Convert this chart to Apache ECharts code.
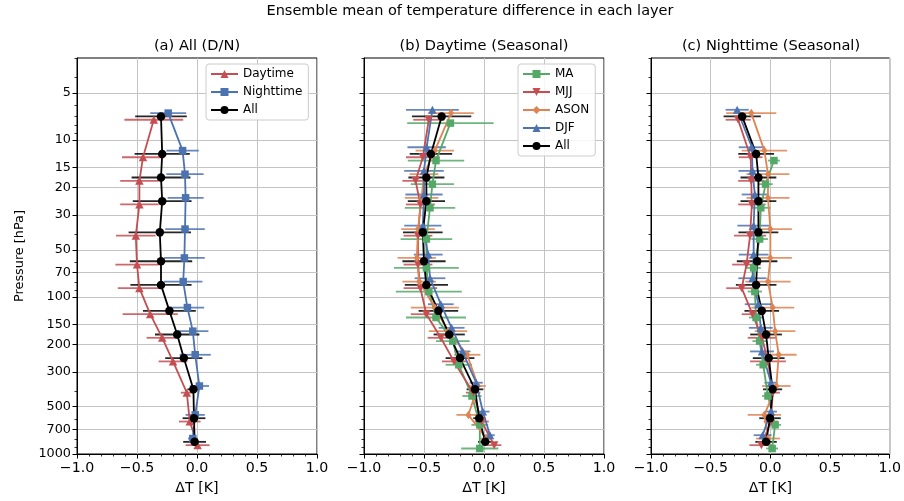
<!DOCTYPE html>
<html><head><meta charset="utf-8">
<script src="https://cdn.jsdelivr.net/npm/echarts@6/dist/echarts.min.js"></script>
<style>html,body{margin:0;padding:0;background:#fff}#c{width:904px;height:501px}</style>
</head><body><div id="c"></div>
<script>
// ---- data ----
const pressureLevels = [7.07, 12.25, 17.32, 24.49, 38.73, 59.16, 83.67, 122.5, 173.2, 244.9, 387.3, 591.6, 836.7];
const majorTicks = [5, 10, 15, 20, 30, 50, 70, 100, 150, 200, 300, 500, 700, 1000];
const minorTicks = [3, 4, 6, 7, 8, 9, 40, 60, 80, 90, 400, 600, 800, 900];
const panelTitles = ['(a) All (D/N)', '(b) Daytime (Seasonal)', '(c) Nighttime (Seasonal)'];

// panel (a)
const dayA      = [-0.36, -0.45, -0.48, -0.48, -0.51, -0.50, -0.48, -0.39, -0.29, -0.20, -0.085, -0.06, 0.005];
const dayAErr   = [0.245, 0.175, 0.16, 0.16, 0.165, 0.18, 0.18, 0.23, 0.13, 0.12, 0.05, 0.09, 0.10];
const nightA    = [-0.24, -0.12, -0.10, -0.095, -0.10, -0.105, -0.115, -0.08, -0.035, -0.015, 0.02, -0.015, -0.035];
const nightAErr = [0.15, 0.135, 0.155, 0.15, 0.165, 0.17, 0.16, 0.14, 0.13, 0.13, 0.08, 0.08, 0.04];
const allA      = [-0.30, -0.29, -0.30, -0.29, -0.31, -0.30, -0.30, -0.23, -0.165, -0.11, -0.03, -0.025, -0.02];
const allAErr   = [0.215, 0.23, 0.245, 0.245, 0.26, 0.26, 0.255, 0.22, 0.185, 0.155, 0.05, 0.095, 0.095];

// panel (b) daytime seasonal
const maB      = [-0.28, -0.40, -0.43, -0.45, -0.48, -0.48, -0.46, -0.40, -0.26, -0.21, -0.10, -0.035, -0.035];
const maBErr   = [0.36, 0.235, 0.18, 0.21, 0.215, 0.27, 0.275, 0.25, 0.14, 0.11, 0.08, 0.07, 0.155];
const mjjB     = [-0.46, -0.51, -0.57, -0.53, -0.55, -0.55, -0.53, -0.48, -0.36, -0.25, -0.09, -0.02, 0.085];
const mjjBErr  = [0.13, 0.14, 0.11, 0.12, 0.12, 0.12, 0.14, 0.13, 0.11, 0.10, 0.06, 0.06, 0.06];
const asonB    = [-0.275, -0.41, -0.50, -0.52, -0.55, -0.56, -0.54, -0.41, -0.30, -0.14, -0.05, -0.13, 0.02];
const asonBErr = [0.19, 0.16, 0.12, 0.14, 0.14, 0.16, 0.14, 0.20, 0.16, 0.11, 0.065, 0.10, 0.05];
const djfB     = [-0.43, -0.478, -0.50, -0.50, -0.51, -0.465, -0.45, -0.36, -0.27, -0.18, -0.065, -0.01, 0.05];
const djfBErr  = [0.22, 0.16, 0.165, 0.155, 0.155, 0.12, 0.128, 0.107, 0.108, 0.067, 0.055, 0.056, 0.04];
const allB     = [-0.353, -0.442, -0.48, -0.48, -0.51, -0.50, -0.48, -0.38, -0.29, -0.20, -0.075, -0.04, 0.01];
const allBErr  = [0.247, 0.177, 0.15, 0.155, 0.165, 0.18, 0.18, 0.165, 0.13, 0.12, 0.07, 0.05, 0.06];

// panel (c) nighttime seasonal
const maC      = [null, 0.03, -0.04, -0.08, -0.09, -0.14, -0.13, -0.12, -0.09, -0.06, -0.02, 0.04, 0.015];
const maCErr   = [null, 0.05, 0.06, 0.08, 0.07, 0.06, 0.06, 0.06, 0.06, 0.06, 0.05, 0.05, 0.05];
const mjjC     = [-0.27, -0.165, -0.16, -0.155, -0.17, -0.20, -0.24, -0.15, -0.07, -0.02, 0.02, 0.005, -0.075];
const mjjCErr  = [0.105, 0.10, 0.11, 0.115, 0.135, 0.12, 0.13, 0.09, 0.12, 0.15, 0.06, 0.06, 0.10];
const asonC    = [-0.16, -0.05, -0.02, -0.02, 0.0, 0.0, -0.02, 0.02, 0.04, 0.07, 0.05, -0.05, -0.02];
const asonCErr = [0.21, 0.19, 0.18, 0.18, 0.18, 0.18, 0.19, 0.18, 0.17, 0.15, 0.12, 0.14, 0.10];
const djfC     = [-0.278, -0.155, -0.15, -0.13, -0.14, -0.14, -0.15, -0.10, -0.08, -0.07, 0.005, 0.005, -0.065];
const djfCErr  = [0.097, 0.11, 0.117, 0.11, 0.136, 0.125, 0.118, 0.114, 0.10, 0.10, 0.055, 0.05, 0.075];
const allC     = [-0.236, -0.119, -0.10, -0.10, -0.10, -0.111, -0.119, -0.072, -0.036, -0.014, 0.019, -0.003, -0.036];
const allCErr  = [0.156, 0.15, 0.15, 0.15, 0.167, 0.17, 0.17, 0.145, 0.133, 0.133, 0.08, 0.09, 0.09];

// ---- styling ----
const FONT = 'DejaVu Sans';
const C = {red:'#C44E52', blue:'#4C72B0', green:'#55A868', orange:'#DD8452', black:'#000000'};
const SYM = {
  up:   {symbol:'triangle', size:[8.5, 8], rotate:0},
  down: {symbol:'triangle', size:[8.5, 8], rotate:180},
  sq:   {symbol:'rect', size:7.5, rotate:0},
  dia:  {symbol:'diamond', size:[6, 8.5], rotate:0},
  circ: {symbol:'circle', size:8.5, rotate:0}
};
const OFFSET_FACTOR = 1.05; // small vertical display offset between series

const panels = [
  [
    {name:'Daytime',   vals:dayA,   errs:dayAErr,   color:C.red,   sym:SYM.up,   k:1},
    {name:'Nighttime', vals:nightA, errs:nightAErr, color:C.blue,  sym:SYM.sq,   k:-1},
    {name:'All',       vals:allA,   errs:allAErr,   color:C.black, sym:SYM.circ, k:0}
  ],
  [
    {name:'MA',   vals:maB,   errs:maBErr,   color:C.green,  sym:SYM.sq,   k:2},
    {name:'MJJ',  vals:mjjB,  errs:mjjBErr,  color:C.red,    sym:SYM.down, k:1},
    {name:'ASON', vals:asonB, errs:asonBErr, color:C.orange, sym:SYM.dia,  k:-1},
    {name:'DJF',  vals:djfB,  errs:djfBErr,  color:C.blue,   sym:SYM.up,   k:-2},
    {name:'All',  vals:allB,  errs:allBErr,  color:C.black,  sym:SYM.circ, k:0}
  ],
  [
    {name:'MA',   vals:maC,   errs:maCErr,   color:C.green,  sym:SYM.sq,   k:2},
    {name:'MJJ',  vals:mjjC,  errs:mjjCErr,  color:C.red,    sym:SYM.down, k:1},
    {name:'ASON', vals:asonC, errs:asonCErr, color:C.orange, sym:SYM.dia,  k:-1},
    {name:'DJF',  vals:djfC,  errs:djfCErr,  color:C.blue,   sym:SYM.up,   k:-2},
    {name:'All',  vals:allC,  errs:allCErr,  color:C.black,  sym:SYM.circ, k:0}
  ]
];

const gridLefts = [77, 364, 651];
const GTOP = 58, GW = 240, GH = 396;
const xTxt = {fontFamily:FONT, color:'#000', fontSize:14.2};
const yTxt = {fontFamily:FONT, color:'#000', fontSize:12.8};
const legTxt = {fontFamily:FONT, color:'#000', fontSize:12};

const grid = gridLefts.map(l => ({left:l, top:GTOP, width:GW, height:GH, show:true,
  borderColor:'#000', borderWidth:1, backgroundColor:'transparent'}));

const xAxis = gridLefts.map((l, i) => ({
  gridIndex:i, type:'value', min:-1, max:1, interval:0.5,
  axisLine:{show:true, onZero:false, lineStyle:{color:'#000', width:1}},
  axisTick:{show:true, length:4.5, lineStyle:{color:'#000', width:1}},
  minorTick:{show:true, splitNumber:5, length:2.5, lineStyle:{color:'#000', width:0.8}},
  axisLabel:Object.assign({margin:7, showMinLabel:true, showMaxLabel:true,
    formatter:v => v.toFixed(1).replace('-', '\u2212')}, xTxt),
  splitLine:{show:true, lineStyle:{color:'#c4c4c4', width:1}},
  minorSplitLine:{show:false},
  name:'\u0394T [K]', nameLocation:'middle', nameGap:27,
  nameTextStyle:Object.assign({}, xTxt)
}));

const yAxis = [];
gridLefts.forEach((l, i) => {
  yAxis.push({
    gridIndex:i, type:'log', logBase:10, min:3, max:1000, inverse:true, position:'left',
    axisLine:{show:true, onZero:false, lineStyle:{color:'#000', width:1}},
    axisTick:{show:true, length:4.5, customValues:majorTicks, lineStyle:{color:'#000', width:1}},
    axisLabel:Object.assign({show:i === 0, margin:6, customValues:majorTicks,
      formatter:v => String(Math.round(v))}, yTxt),
    splitLine:{show:true, lineStyle:{color:'#c4c4c4', width:1}},
    name: i === 0 ? 'Pressure [hPa]' : '', nameLocation:'middle', nameGap:51, nameRotate:90,
    nameTextStyle:Object.assign({}, yTxt)
  });
  yAxis.push({
    gridIndex:i, type:'log', logBase:10, min:3, max:1000, inverse:true, position:'left', offset:0,
    axisLine:{show:false, onZero:false},
    axisTick:{show:true, length:2.5, customValues:minorTicks, lineStyle:{color:'#000', width:0.8}},
    axisLabel:{show:false, customValues:minorTicks},
    splitLine:{show:false}
  });
});

const series = [];
panels.forEach((list, pi) => {
  list.forEach(s => {
    const f = Math.pow(OFFSET_FACTOR, s.k);
    const pts = [], errPts = [];
    s.vals.forEach((v, j) => {
      if (v === null) return;
      const p = pressureLevels[j] * f;
      pts.push([v, p]);
      errPts.push([v, p, s.errs[j]]);
    });
    series.push({
      type:'custom', name:s.name + ' err', xAxisIndex:pi, yAxisIndex:pi * 2,
      coordinateSystem:'cartesian2d', encode:{x:0, y:1}, silent:true, animation:false,
      data:errPts,
      renderItem:(params, api) => {
        const x = api.value(0), y = api.value(1), e = api.value(2);
        const a = api.coord([x - e, y]), b = api.coord([x + e, y]);
        return {type:'line', shape:{x1:a[0], y1:a[1], x2:b[0], y2:b[1]},
          style:{stroke:s.color, lineWidth:1.8, opacity:0.85}};
      }
    });
    series.push({
      type:'line', name:s.name, xAxisIndex:pi, yAxisIndex:pi * 2, data:pts,
      symbol:s.sym.symbol, symbolSize:s.sym.size, symbolRotate:s.sym.rotate, showSymbol:true,
      lineStyle:{color:s.color, width:1.8}, itemStyle:{color:s.color, borderWidth:0},
      animation:false, silent:true, emphasis:{disabled:true}
    });
  });
});

const legendBase = {orient:'vertical', itemWidth:27, itemHeight:10, itemGap:6,
  padding:[4, 6, 4, 4], backgroundColor:'rgba(255,255,255,0.85)', borderColor:'#cccccc',
  borderWidth:1, borderRadius:3, selectedMode:false,
  textStyle:Object.assign({lineHeight:12}, legTxt)};

const option = {
  backgroundColor:'#fff',
  animation:false,
  title:[
    {text:'Ensemble mean of temperature difference in each layer', left:470, top:4, textAlign:'center', padding:0,
      textStyle:{fontFamily:FONT, fontSize:14.5, fontWeight:'normal', color:'#000'}},
  ].concat(panelTitles.map((t, i) => ({text:t, left:gridLefts[i] + GW / 2, top:39, textAlign:'center', padding:0,
      textStyle:{fontFamily:FONT, fontSize:14.6, fontWeight:'normal', color:'#000'}}))),
  legend:[
    Object.assign({}, legendBase, {data:['Daytime', 'Nighttime', 'All'], left:206, top:64}),
    Object.assign({}, legendBase, {data:['MA', 'MJJ', 'ASON', 'DJF', 'All'], left:518, top:64})
  ],
  grid, xAxis, yAxis, series
};

const chart = echarts.init(document.getElementById('c'), null, {renderer:'canvas', width:904, height:501});
chart.setOption(option);
</script></body></html>
